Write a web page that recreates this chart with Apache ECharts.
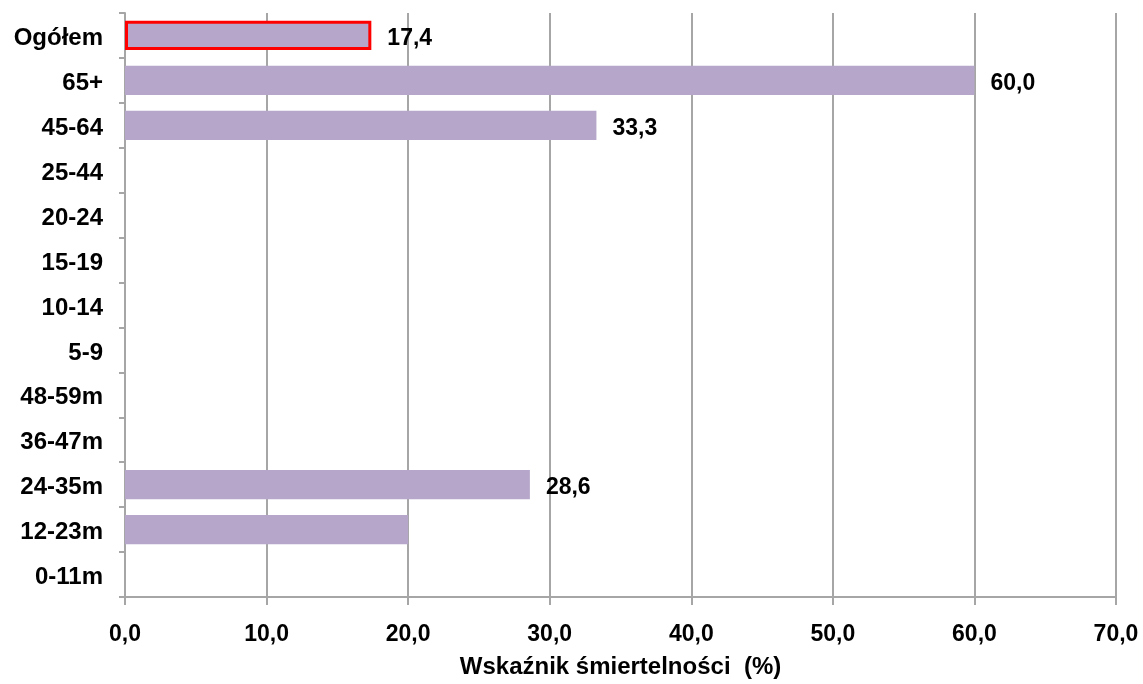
<!DOCTYPE html>
<html>
<head>
<meta charset="utf-8">
<script src="https://cdn.jsdelivr.net/npm/echarts@6/dist/echarts.min.js"></script>
<style>
  html, body { margin: 0; padding: 0; background: #fff; }
  #chart { width: 1143px; height: 684px; }
</style>
</head>
<body>
<div id="chart"></div>
<script>
// Age groups, top to bottom
const categories = ['Ogółem', '65+', '45-64', '25-44', '20-24', '15-19', '10-14', '5-9', '48-59m', '36-47m', '24-35m', '12-23m', '0-11m'];
// Case fatality rate (%) per group; null = no bar
const values = [17.4, 60.0, 33.3, null, null, null, null, null, null, null, 28.6, 20.0, null];
// Groups whose value is printed beside the bar
const labelled = [true, true, true, false, false, false, false, false, false, false, true, false, false];
const xTicks = { min: 0, max: 70, interval: 10 };
const axisTitle = 'Wskaźnik śmiertelności  (%)';

const FONT = '"Liberation Sans", Arial, sans-serif';
const GRAY = '#a6a6a6';
const FILL = '#b6a7ca';

const seriesData = values.map((v, i) => {
  const item = { value: v, label: { show: labelled[i] && v != null } };
  if (i === 0) {
    item.itemStyle = { color: FILL, borderColor: '#ff0000', borderWidth: 3 };
  }
  return item;
});

const chart = echarts.init(document.getElementById('chart'), null, { renderer: 'canvas' });
chart.setOption({
  animation: false,
  backgroundColor: '#fff',
  grid: { left: 125, right: 27, top: 13, bottom: 87, containLabel: false },
  xAxis: {
    type: 'value',
    min: xTicks.min, max: xTicks.max, interval: xTicks.interval,
    name: axisTitle,
    nameLocation: 'middle',
    nameGap: 58,
    nameTextStyle: { fontFamily: FONT, fontWeight: 'bold', fontSize: 24, color: '#000' },
    axisLine: { show: true, lineStyle: { color: GRAY, width: 2 } },
    axisTick: { show: true, length: 8, lineStyle: { color: GRAY, width: 2 } },
    axisLabel: {
      margin: 26, fontFamily: FONT, fontWeight: 'bold', fontSize: 23, color: '#000',
      formatter: v => v.toFixed(1).replace('.', ',')
    },
    splitLine: { show: true, lineStyle: { color: GRAY, width: 2 } }
  },
  yAxis: {
    type: 'category',
    data: categories,
    inverse: true,
    axisLine: { show: true, lineStyle: { color: GRAY, width: 2 } },
    axisTick: { show: true, length: 6, alignWithLabel: false, lineStyle: { color: GRAY, width: 2 } },
    axisLabel: {
      margin: 22, color: '#000',
      formatter: v => '{c|' + v + '}',
      rich: {
        c: { fontFamily: FONT, fontWeight: 'bold', fontSize: 24, color: '#000', padding: [6, 0, 0, 0] }
      }
    },
    splitLine: { show: false }
  },
  series: [{
    type: 'bar',
    data: seriesData,
    barCategoryGap: '35%',
    itemStyle: { color: FILL },
    label: {
      position: 'right',
      distance: 16,
      offset: [0, 3],
      fontFamily: FONT, fontWeight: 'bold', fontSize: 23, color: '#000',
      formatter: p => p.value.toFixed(1).replace('.', ',')
    }
  }]
});
</script>
</body>
</html>
